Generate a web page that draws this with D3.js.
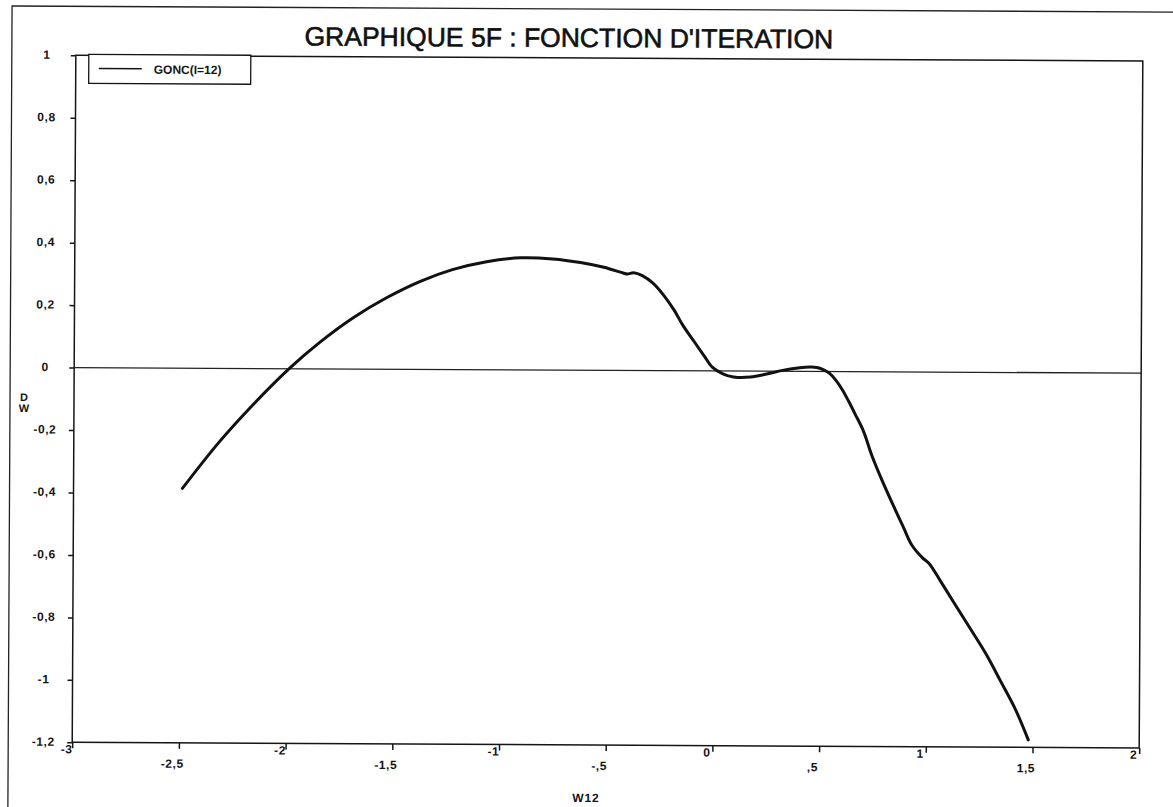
<!DOCTYPE html>
<html lang="fr">
<head>
    <meta charset="UTF-8">
    <title>Graphique 5F : fonction d'iteration</title>
    <style>
        body { margin: 0; background: #fff; }
        svg { display: block; font-family: "Liberation Sans", Arial, sans-serif; }
        .axis path, .axis line { stroke: #151515; stroke-width: 1.5px; }
        .axis text { font-size: 12px; font-weight: bold; fill: #151515; letter-spacing: 0.6px; }
        .curve { fill: none; stroke: #111; stroke-width: 3px; stroke-linejoin: round; stroke-linecap: round; }
    </style>
    <script src="https://d3js.org/d3.v7.min.js"></script>
</head>
<body>
<svg width="1173" height="807"></svg>
<script>
    var w12 = [-2.49, -2.32, -2.16, -1.99, -1.85, -1.69, -1.54, -1.38, -1.23, -1.07,
               -0.91, -0.76, -0.63, -0.52, -0.43, -0.41, -0.38, -0.34, -0.29, -0.24,
               -0.19, -0.15, -0.10, -0.05, -0.01, 0.04, 0.09, 0.17, 0.24, 0.32,
               0.40, 0.45, 0.48, 0.51, 0.54, 0.57, 0.60, 0.63, 0.66, 0.70,
               0.74, 0.79, 0.84, 0.89, 0.93, 0.98, 1.01, 1.07, 1.13, 1.20,
               1.28, 1.35, 1.42, 1.48];
    var dw = [-0.385, -0.237, -0.115, 0.002, 0.085, 0.166, 0.228, 0.282, 0.320, 0.346,
              0.359, 0.356, 0.345, 0.330, 0.312, 0.309, 0.313, 0.304, 0.280, 0.242,
              0.194, 0.147, 0.098, 0.050, 0.012, -0.009, -0.019, -0.019, -0.010, 0.003,
              0.012, 0.014, 0.013, 0.006, -0.006, -0.028, -0.058, -0.095, -0.135, -0.190,
              -0.268, -0.350, -0.425, -0.498, -0.555, -0.595, -0.612, -0.675, -0.740, -0.815,
              -0.902, -0.990, -1.080, -1.176];

    var xTicks = [-3, -2.5, -2, -1.5, -1, -0.5, 0, 0.5, 1, 1.5, 2];
    var xTickLabels = ["-3", "-2,5", "-2", "-1,5", "-1", "-,5", "0", ",5", "1", "1,5", "2"];
    var yTicks = [1, 0.8, 0.6, 0.4, 0.2, 0, -0.2, -0.4, -0.6, -0.8, -1, -1.2];
    var yTickLabels = ["1", "0,8", "0,6", "0,4", "0,2", "0", "-0,2", "-0,4", "-0,6", "-0,8", "-1", "-1,2"];

    var title = "GRAPHIQUE 5F : FONCTION D'ITERATION";
    var seriesName = "GONC(I=12)";
    var xTitle = "W12";
    var yTitle = ["D", "W"];

    var plotLeft = 74, plotRight = 1141, plotTop = 58, plotBottom = 745;

    var x = d3.scaleLinear().domain([-3, 2]).range([plotLeft, plotRight]);
    var y = d3.scaleLinear().domain([-1.2, 1]).range([plotBottom, plotTop]);

    // the scan is slightly tilted
    var svg = d3.select("svg").append("g")
        .attr("transform", "rotate(0.3, 586, 403)");

    // outer frame (runs off the page on the right and bottom)
    svg.append("rect")
        .attr("x", 10).attr("y", 9)
        .attr("width", 1200).attr("height", 830)
        .attr("fill", "none").attr("stroke", "#222").attr("stroke-width", 1.3);

    svg.append("text")
        .attr("x", 567).attr("y", 47)
        .attr("text-anchor", "middle")
        .style("font-size", "26.5px")
        .style("fill", "#111")
        .style("stroke", "#111").style("stroke-width", 0.6)
        .text(title);

    // plot frame
    svg.append("rect")
        .attr("x", plotLeft).attr("y", plotTop)
        .attr("width", plotRight - plotLeft).attr("height", plotBottom - plotTop)
        .attr("fill", "none").attr("stroke", "#151515").attr("stroke-width", 1.5);

    // zero line
    svg.append("line")
        .attr("x1", x(-3)).attr("x2", x(2))
        .attr("y1", y(0)).attr("y2", y(0))
        .attr("stroke", "#222").attr("stroke-width", 1.3);

    var xAxis = svg.append("g")
        .attr("class", "axis")
        .attr("transform", "translate(0," + plotBottom + ")")
        .call(d3.axisBottom(x).tickValues(xTicks).tickSize(6).tickSizeOuter(0)
            .tickFormat(function(d, i) { return xTickLabels[i]; }));
    xAxis.select(".domain").remove();
    xAxis.selectAll(".tick text")
        .attr("dy", 0)
        .attr("y", function(d, i) { return i % 2 === 0 ? 11 : 25; })
        .attr("dx", function(d, i) { return i % 2 === 0 ? -6 : -7; });

    var yAxis = svg.append("g")
        .attr("class", "axis")
        .attr("transform", "translate(" + plotLeft + ",0)")
        .call(d3.axisLeft(y).tickValues(yTicks).tickSize(5).tickSizeOuter(0)
            .tickFormat(function(d, i) { return yTickLabels[i]; }));
    yAxis.select(".domain").remove();
    yAxis.selectAll(".tick text")
        .attr("text-anchor", "middle")
        .attr("x", -29)
        .attr("dy", 0)
        .attr("y", 3);

    svg.append("text")
        .attr("x", 588).attr("y", 802)
        .attr("text-anchor", "middle")
        .style("font-size", "12px").style("font-weight", "bold").style("letter-spacing", "0.8px")
        .style("fill", "#151515")
        .text(xTitle);

    svg.selectAll(".ytitle")
        .data(yTitle)
        .enter().append("text")
        .attr("class", "ytitle")
        .attr("x", 24)
        .attr("y", function(d, i) { return 404 + i * 11; })
        .attr("text-anchor", "middle")
        .style("font-size", "11px").style("font-weight", "bold")
        .style("fill", "#151515")
        .text(function(d) { return d; });

    // legend
    var legend = svg.append("g");
    legend.append("rect")
        .attr("x", 87).attr("y", 57).attr("width", 162).attr("height", 29)
        .attr("fill", "#fff").attr("stroke", "#151515").attr("stroke-width", 1.3);
    legend.append("line")
        .attr("x1", 97).attr("x2", 140).attr("y1", 71).attr("y2", 71)
        .attr("stroke", "#151515").attr("stroke-width", 1.5);
    legend.append("text")
        .attr("x", 152).attr("y", 76)
        .style("font-size", "12px").style("font-weight", "bold")
        .style("fill", "#151515")
        .text(seriesName);

    var line = d3.line()
        .x(function(d, i) { return x(w12[i]); })
        .y(function(d) { return y(d); })
        .curve(d3.curveCatmullRom.alpha(0.5));

    svg.append("path")
        .attr("class", "curve")
        .attr("d", line(dw));
</script>
</body>
</html>
